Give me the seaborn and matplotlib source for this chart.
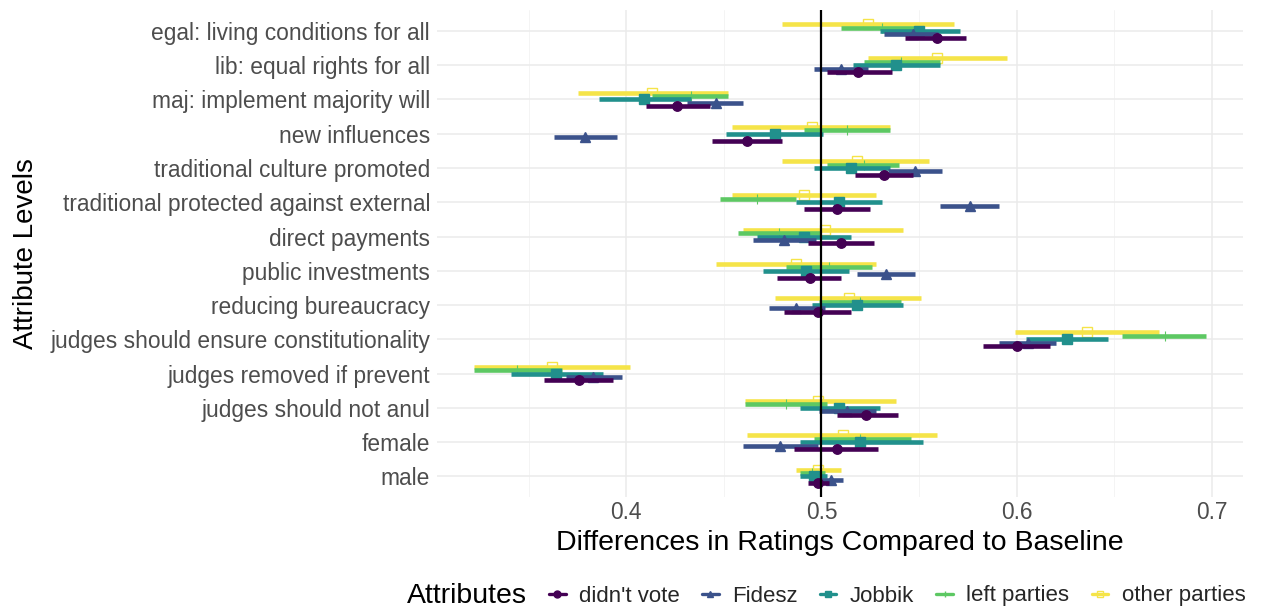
import numpy as np
import pandas as pd
import matplotlib
matplotlib.use("Agg")
import matplotlib.pyplot as plt
from matplotlib.lines import Line2D
from matplotlib.ticker import MultipleLocator
import seaborn as sns

# Attribute levels, listed top to bottom
levels = [
    "egal: living conditions for all",
    "lib: equal rights for all",
    "maj: implement majority will",
    "new influences",
    "traditional culture promoted",
    "traditional protected against external",
    "direct payments",
    "public investments",
    "reducing bureaucracy",
    "judges should ensure constitutionality",
    "judges removed if prevent",
    "judges should not anul",
    "female",
    "male",
]

groups = ["didn't vote", "Fidesz", "Jobbik", "left parties", "other parties"]

# Point estimates and 95% interval bounds per voter group (same order as levels)
didnt_vote_est = [0.559, 0.519, 0.426, 0.462, 0.532, 0.508, 0.510, 0.494, 0.498, 0.600, 0.376, 0.523, 0.508, 0.498]
didnt_vote_lo = [0.543, 0.503, 0.410, 0.444, 0.517, 0.491, 0.493, 0.477, 0.481, 0.583, 0.358, 0.508, 0.486, 0.493]
didnt_vote_hi = [0.574, 0.536, 0.443, 0.480, 0.547, 0.525, 0.527, 0.510, 0.515, 0.617, 0.393, 0.539, 0.529, 0.504]

fidesz_est = [0.547, 0.510, 0.446, 0.379, 0.548, 0.576, 0.481, 0.533, 0.487, 0.606, 0.383, 0.513, 0.479, 0.505]
fidesz_lo = [0.532, 0.496, 0.431, 0.363, 0.534, 0.561, 0.465, 0.518, 0.473, 0.591, 0.369, 0.499, 0.460, 0.499]
fidesz_hi = [0.560, 0.524, 0.460, 0.395, 0.562, 0.591, 0.497, 0.548, 0.502, 0.620, 0.398, 0.528, 0.498, 0.511]

jobbik_est = [0.550, 0.538, 0.409, 0.476, 0.515, 0.509, 0.491, 0.492, 0.518, 0.626, 0.364, 0.509, 0.520, 0.496]
jobbik_lo = [0.530, 0.516, 0.386, 0.451, 0.496, 0.487, 0.467, 0.470, 0.495, 0.605, 0.341, 0.489, 0.489, 0.489]
jobbik_hi = [0.571, 0.561, 0.433, 0.501, 0.535, 0.531, 0.515, 0.514, 0.542, 0.647, 0.388, 0.530, 0.552, 0.503]

left_est = [0.531, 0.541, 0.433, 0.513, 0.522, 0.467, 0.478, 0.504, 0.520, 0.676, 0.344, 0.482, 0.520, 0.495]
left_lo = [0.510, 0.522, 0.413, 0.491, 0.503, 0.448, 0.457, 0.482, 0.499, 0.654, 0.322, 0.461, 0.496, 0.489]
left_hi = [0.552, 0.561, 0.452, 0.535, 0.540, 0.487, 0.500, 0.526, 0.541, 0.697, 0.367, 0.503, 0.546, 0.502]

other_est = [0.524, 0.559, 0.413, 0.495, 0.518, 0.491, 0.502, 0.487, 0.514, 0.636, 0.362, 0.498, 0.511, 0.498]
other_lo = [0.480, 0.524, 0.375, 0.454, 0.480, 0.454, 0.460, 0.446, 0.476, 0.599, 0.322, 0.461, 0.462, 0.487]
other_hi = [0.568, 0.595, 0.452, 0.535, 0.555, 0.528, 0.542, 0.528, 0.551, 0.673, 0.402, 0.538, 0.559, 0.510]

estimates = {
    "didn't vote": (didnt_vote_est, didnt_vote_lo, didnt_vote_hi),
    "Fidesz": (fidesz_est, fidesz_lo, fidesz_hi),
    "Jobbik": (jobbik_est, jobbik_lo, jobbik_hi),
    "left parties": (left_est, left_lo, left_hi),
    "other parties": (other_est, other_lo, other_hi),
}

palette = {
    "didn't vote": "#440154",
    "Fidesz": "#3B528B",
    "Jobbik": "#21908C",
    "left parties": "#5DC863",
    "other parties": "#F5E449",
}
marker_map = {
    "didn't vote": "o",
    "Fidesz": "^",
    "Jobbik": "s",
    "left parties": "+",
    "other parties": "s",
}

# Long table: each level/group contributes its lower bound, estimate and upper bound.
# The median of the three is the estimate; the full range is the interval.
rows = []
for g, (est, lo, hi) in estimates.items():
    for lvl, e, l, h in zip(levels, est, lo, hi):
        for v in (l, e, h):
            rows.append({"level": lvl, "group": g, "value": v})
df = pd.DataFrame(rows)

sns.set_theme(style="whitegrid")
plt.rcParams["font.family"] = ["Liberation Sans", "DejaVu Sans"]

fig = plt.figure(figsize=(12.65, 6.12), dpi=100)
ax = fig.add_axes([0.3455, 0.188, 0.637, 0.795])

# stack order: first hue level sits highest in each row
hue_order = groups[::-1]
sns.pointplot(
    data=df, x="value", y="level", hue="group",
    order=levels, hue_order=hue_order, palette=palette,
    estimator="median", errorbar=("pi", 100),
    markers=[marker_map[g] for g in hue_order], linestyles="none",
    dodge=0.4, orient="h", legend=False,
    err_kws={"linewidth": 3.3, "solid_capstyle": "butt"},
    markersize=6.8, markeredgewidth=1.0,
    ax=ax,
)

# open square for "other parties", thin cross for "left parties"
for ln in ax.lines:
    col = matplotlib.colors.to_hex(ln.get_color()).lower()
    if ln.get_marker() == "s" and col == palette["other parties"].lower():
        ln.set_markerfacecolor("none")
        ln.set_markeredgewidth(1.0)
        ln.set_markersize(7)
    if ln.get_marker() == "+":
        ln.set_markersize(7)
        ln.set_markeredgewidth(0.8)

ax.axvline(0.5, color="black", linewidth=1.6, zorder=5)

ax.set_xlim(0.303, 0.716)
ax.set_ylim(len(levels) - 0.4, -0.6)
ax.xaxis.set_minor_locator(MultipleLocator(0.05))
ax.set_xticks([0.4, 0.5, 0.6, 0.7])
ax.set_xticklabels(["0.4", "0.5", "0.6", "0.7"])
ax.grid(which="major", color="#EBEBEB", linewidth=1.1)
ax.grid(which="minor", axis="x", color="#F2F2F2", linewidth=0.6)
for s in ax.spines.values():
    s.set_visible(False)
ax.tick_params(axis="both", which="both", length=0, colors="#4D4D4D", labelsize=16.4)
ax.tick_params(axis="y", pad=5)
ax.tick_params(axis="x", pad=3)

ax.set_xlabel("Differences in Ratings Compared to Baseline", fontsize=20.5, color="black", labelpad=4)
ax.set_ylabel("Attribute Levels", fontsize=20, color="black", labelpad=8)

# legend along the bottom
fig.text(407 / 1265, 1 - 596 / 612, "Attributes", fontsize=20.5, va="center", ha="left", color="black")
handles = [
    Line2D([0], [0], color=palette[g], marker=marker_map[g], linestyle="-", linewidth=2.4,
           markersize=5, markeredgewidth=1.0,
           markerfacecolor=("none" if g == "other parties" else palette[g]))
    for g in groups
]
fig.legend(
    handles, groups, loc="center left", bbox_to_anchor=(549 / 1265, 1 - 596 / 612),
    ncol=5, frameon=False, fontsize=16, handlelength=0.75, handletextpad=0.6,
    columnspacing=1.0, borderaxespad=0, borderpad=0,
)

fig.savefig("out.png", dpi=100)
